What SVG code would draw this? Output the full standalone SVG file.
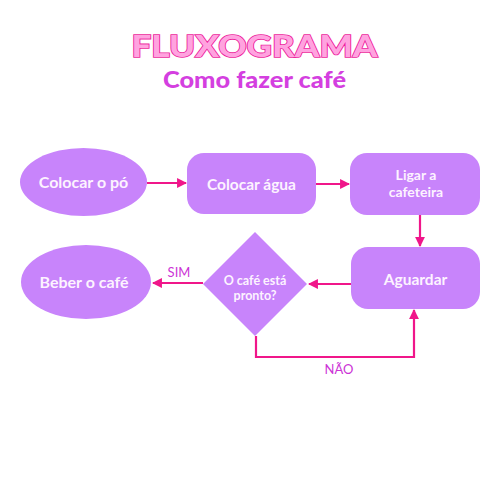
<svg xmlns="http://www.w3.org/2000/svg" width="500" height="500" viewBox="0 0 500 500">
<style>
.node{fill:#c884fb;}
.nt{fill:#fdf3ff;font-family:Lato,"Liberation Sans",sans-serif;font-weight:700;text-anchor:middle;}
.conn{stroke:#f0168a;stroke-width:2.2;fill:none;marker-end:url(#ah);}
.lbl{fill:#cc33d6;font-family:Lato,"Liberation Sans",sans-serif;font-size:13px;text-anchor:middle;}
</style>
<defs>
<marker id="ah" viewBox="0 0 10 10" refX="9" refY="5" markerWidth="4.5" markerHeight="4.5" orient="auto" markerUnits="strokeWidth">
<path d="M0,0 L10,5 L0,10 z" fill="#f0168a"/>
</marker>
</defs>
<rect width="500" height="500" fill="#ffffff"/>
<g id="title">
<text x="254.5" y="57" text-anchor="middle" font-family="Lato,'Liberation Sans',sans-serif" font-weight="900" font-size="31" textLength="246" lengthAdjust="spacingAndGlyphs" fill="#ffa3df" stroke="#ec1e9b" stroke-width="1.6" paint-order="stroke">FLUXOGRAMA</text>
<text x="254.5" y="88" text-anchor="middle" font-family="Lato,'Liberation Sans',sans-serif" font-weight="900" font-size="22" fill="#d43fe0" textLength="183" lengthAdjust="spacingAndGlyphs">Como fazer café</text>
</g>
<g id="connectors">
<line class="conn" x1="147" y1="183" x2="186" y2="183"/>
<line class="conn" x1="316" y1="184" x2="349" y2="184"/>
<line class="conn" x1="420" y1="215" x2="420" y2="246"/>
<line class="conn" x1="351" y1="284" x2="309" y2="284"/>
<line class="conn" x1="203" y1="283" x2="153" y2="283"/>
<polyline class="conn" points="256,336 256,357 414,357 414,310"/>
<text class="lbl" x="179" y="277">SIM</text>
<text class="lbl" x="339" y="374">NÃO</text>
</g>
<g id="n1">
<ellipse class="node" cx="83.5" cy="182" rx="63.5" ry="34"/>
<text class="nt" x="83.5" y="188" font-size="16">Colocar o pó</text>
</g>
<g id="n2">
<rect class="node" x="187" y="153" width="129" height="61" rx="17"/>
<text class="nt" x="251.5" y="190" font-size="15.5">Colocar água</text>
</g>
<g id="n3">
<rect class="node" x="350" y="153" width="130" height="62" rx="17"/>
<text class="nt" x="416" y="180" font-size="14">Ligar a</text>
<text class="nt" x="416" y="197" font-size="14">cafeteira</text>
</g>
<g id="n4">
<rect class="node" x="351" y="247" width="129" height="62" rx="17"/>
<text class="nt" x="415.5" y="285" font-size="15.5">Aguardar</text>
</g>
<g id="n5">
<polygon class="node" points="255,232 307,284 255,336 203,284"/>
<text class="nt" x="255" y="285" font-size="12.5">O café está</text>
<text class="nt" x="255" y="300" font-size="12.5">pronto?</text>
</g>
<g id="n6">
<ellipse class="node" cx="86" cy="282" rx="65" ry="37"/>
<text class="nt" x="84" y="288" font-size="16">Beber o café</text>
</g>
</svg>
